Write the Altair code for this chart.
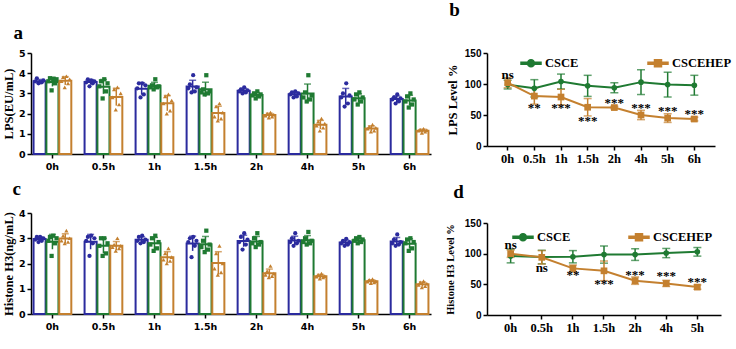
import altair as alt
import pandas as pd

TIMES = ['0h', '0.5h', '1h', '1.5h', '2h', '4h', '5h', '6h']
TIMES_D = ['0h', '0.5h', '1h', '1.5h', '2h', '4h', '5h']
GROUPS = ['LPS', 'CSCE', 'CSCEHEP']
SERIES = ['CSCE', 'CSCEHEP']
BLUE = '#2b2b9e'
GREEN = '#1f7a32'
ORANGE = '#c4802f'

# ---- panel a: LPS (EU/mL), individual replicates per time point ----
A_LPS = [[3.5, 3.55, 3.6, 3.65, 3.75, 3.55], [3.35, 3.5, 3.55, 3.6, 3.7, 3.65],
         [2.8, 2.95, 3.25, 3.4, 3.5, 3.5], [3.05, 3.1, 3.25, 3.3, 3.45, 3.9],
         [3.0, 3.05, 3.1, 3.15, 3.2, 3.3], [2.8, 2.85, 2.95, 3.0, 3.05, 3.1],
         [2.35, 2.5, 2.8, 2.9, 3.0, 3.5], [2.5, 2.6, 2.7, 2.75, 2.8, 2.95]]
A_CSCE = [[3.15, 3.5, 3.6, 3.7, 3.75, 3.72], [2.75, 3.1, 3.35, 3.5, 3.6, 3.7],
          [3.2, 3.3, 3.3, 3.35, 3.4, 3.7], [2.95, 3.0, 3.05, 3.1, 3.2, 3.9],
          [2.75, 2.85, 2.9, 2.95, 3.0, 3.1], [2.6, 2.7, 2.8, 2.9, 3.05, 3.9],
          [2.45, 2.6, 2.7, 2.8, 2.95, 3.05], [2.3, 2.45, 2.6, 2.7, 2.85, 3.0]]
A_HEP = [[3.3, 3.5, 3.6, 3.7, 3.8, 3.85], [2.2, 2.45, 2.8, 3.0, 3.2, 3.3],
         [2.0, 2.15, 2.5, 2.65, 2.85, 2.95], [1.65, 1.75, 1.85, 2.05, 2.35, 2.5],
         [1.8, 1.85, 1.9, 1.95, 2.0, 2.05], [1.15, 1.3, 1.4, 1.5, 1.6, 1.75],
         [1.1, 1.15, 1.25, 1.3, 1.35, 1.45], [1.05, 1.1, 1.15, 1.18, 1.2, 1.25]]

# ---- panel c: Histone H3 (ng/mL) ----
C_LPS = [[2.85, 2.9, 2.95, 3.0, 3.05, 3.05], [2.3, 2.8, 2.9, 3.0, 3.05, 3.1],
         [2.8, 2.85, 2.9, 2.95, 3.05, 3.1], [2.25, 2.7, 2.85, 2.9, 3.0, 3.05],
         [2.55, 2.75, 2.85, 2.95, 3.05, 3.2], [2.7, 2.8, 2.85, 2.9, 3.0, 3.2],
         [2.7, 2.75, 2.8, 2.85, 2.9, 2.98], [2.7, 2.75, 2.8, 2.85, 2.95, 3.15]]
C_CSCE = [[2.3, 2.8, 2.9, 3.0, 3.05, 3.1], [2.3, 2.4, 2.7, 2.8, 3.0, 3.0],
          [2.5, 2.6, 2.75, 2.85, 3.0, 3.1], [2.45, 2.55, 2.65, 2.75, 2.9, 3.3],
          [2.65, 2.75, 2.8, 2.85, 3.0, 3.2], [2.75, 2.8, 2.85, 2.9, 3.0, 3.25],
          [2.8, 2.85, 2.9, 2.95, 3.0, 3.05], [2.5, 2.6, 2.8, 2.85, 2.95, 3.0]]
C_HEP = [[2.8, 2.85, 2.9, 3.0, 3.1, 3.3], [2.5, 2.6, 2.65, 2.7, 2.75, 3.0],
         [2.0, 2.1, 2.15, 2.25, 2.4, 2.6], [1.55, 1.65, 1.8, 2.0, 2.4, 2.7],
         [1.45, 1.5, 1.55, 1.6, 1.7, 1.9], [1.4, 1.45, 1.48, 1.5, 1.55, 1.6],
         [1.22, 1.25, 1.28, 1.3, 1.35, 1.38], [1.05, 1.1, 1.15, 1.2, 1.25, 1.3]]

# fixed horizontal slot order for replicate dots inside each bar
PERM = [2, 4, 0, 5, 1, 3]

# ---- panel b: LPS level % ----
B_CSCE_MEAN = [99, 93, 104, 97, 94, 103, 99, 98]
B_CSCE_SD = [7, 14, 12, 17, 8, 20, 20, 16]
B_HEP_MEAN = [102, 80.5, 79, 62.5, 62, 50, 45, 43.5]
B_HEP_SD = [8, 13, 12.5, 14, 2, 7.5, 7, 3]
B_SIG = ['ns', '**', '***', '***', '***', '***', '***', '***']
B_SIG_Y = [115, 61, 61, 41, 70, 61, 56, 52]

# ---- panel d: Histone H3 level % ----
D_CSCE_MEAN = [96, 94.5, 95, 98.5, 98.5, 101, 103]
D_CSCE_SD = [11, 11, 10, 14, 9.5, 7.5, 7]
D_HEP_MEAN = [100, 94, 76, 72, 56, 51.5, 45.5]
D_HEP_SD = [6, 11, 5.5, 16, 6, 5, 3.5]
D_SIG = ['ns', 'ns', '**', '***', '***', '***', '***']
D_SIG_Y = [114, 77, 65, 51, 65, 63, 54]

SERIF = 'Liberation Serif'
SANS = 'Liberation Sans'
# legend glyphs: a short filled bar (the line) plus the marker
PATH_C = ('M-1,-0.1L1,-0.1L1,0.1L-1,0.1Z'
          'M0.35,0A0.35,0.35,0,1,1,-0.35,0A0.35,0.35,0,1,1,0.35,0Z')
PATH_S = 'M-1,-0.1L1,-0.1L1,0.1L-1,0.1ZM-0.35,-0.35L0.35,-0.35L0.35,0.35L-0.35,0.35Z'


def bar_df(lists):
    rows = []
    for gi, (g, series) in enumerate(zip(GROUPS, lists)):
        for t, vals in zip(TIMES, series):
            for i, v in enumerate(vals):
                rows.append({'time': t, 'grp': g, 'value': v, 'slot': gi * 8 + 1 + PERM[i]})
    return pd.DataFrame(rows)


def title(letter, offset, dx, alpha):
    kw = dict(baseline='alphabetic') if alpha else {}
    return alt.TitleParams(text=letter, anchor='start', font=SERIF, fontSize=19,
                           fontWeight='bold', color='black', offset=offset, dx=dx, **kw)


def bar_panel(df, ymax, ytitle, letter, toff, tdx, legend_x, legend_y, lfont, loffset, lpad, width, height):
    cscale = alt.Scale(domain=GROUPS, range=[BLUE, GREEN, ORANGE])
    xscale = alt.Scale(paddingInner=0.26, paddingOuter=0.05)
    xaxis = alt.Axis(title=None, labelAngle=0, bandPosition=0.5, labelFont='DejaVu Sans',
                     labelFontWeight='bold', labelFontSize=9.5, labelColor='black', labelPadding=3)
    yscale = alt.Scale(domain=[0, ymax], nice=False)
    yaxis = alt.Axis(values=list(range(ymax + 1)), title=ytitle, titleFont=SERIF,
                     titleFontWeight='bold', titleFontSize=12.5, titleColor='black',
                     titlePadding=3, labelFont='DejaVu Sans', labelFontWeight='bold',
                     labelFontSize=9.5, labelColor='black')

    def X():
        return alt.X('time:N', sort=TIMES, scale=xscale, axis=xaxis)

    def Y(f):
        return alt.Y(f, scale=yscale, axis=yaxis)

    goff = alt.XOffset('grp:N', sort=GROUPS, scale=alt.Scale(paddingInner=0.06))
    leg = alt.Legend(title=None, orient='none', legendX=legend_x, legendY=legend_y,
                     direction='horizontal', labelFont=SERIF, labelFontWeight='bold',
                     labelFontSize=lfont, labelColor='black', labelOffset=loffset,
                     columnPadding=lpad, gridAlign='all', symbolSize=22, padding=0)
    base = alt.Chart(df)
    bars = base.mark_bar(fill='white', strokeWidth=2).encode(
        x=X(), xOffset=goff, y=Y('mean(value):Q'),
        stroke=alt.Stroke('grp:N', scale=cscale, legend=None))
    agg = base.transform_aggregate(m='mean(value)', s='stdev(value)', groupby=['time', 'grp']) \
        .transform_calculate(lo='datum.m - datum.s', hi='datum.m + datum.s')
    rules = agg.mark_rule(strokeWidth=1.5).encode(
        x=X(), xOffset=goff, y=Y('lo:Q'), y2='hi:Q',
        color=alt.Color('grp:N', scale=cscale, legend=None))
    caps = agg.mark_tick(thickness=1.5, size=7).encode(
        x=X(), xOffset=goff, y=Y('hi:Q'),
        color=alt.Color('grp:N', scale=cscale, legend=None))
    pts = base.mark_point(filled=True, size=18, opacity=1).encode(
        x=X(),
        xOffset=alt.XOffset('slot:O', scale=alt.Scale(domain=list(range(24)), paddingInner=0, paddingOuter=0)),
        y=Y('value:Q'),
        color=alt.Color('grp:N', scale=cscale, legend=leg),
        shape=alt.Shape('grp:N', scale=alt.Scale(domain=GROUPS, range=['circle', 'square', 'triangle-up']), legend=leg))
    return alt.layer(bars, rules, caps, pts).resolve_scale(xOffset='independent').properties(
        width=width, height=height, title=title(letter, toff, tdx, False))


def line_panel(times, cm, csd, hm, hsd, sig, sigy, ytitle, tfs, tpad, letter, toff, tdx,
               legend_x, legend_y, lpad, width, height, xpad):
    rows = []
    for s, means, sds in (('CSCE', cm, csd), ('CSCEHEP', hm, hsd)):
        for t, m, sd in zip(times, means, sds):
            rows.append({'time': t, 'series': s, 'mean': m, 'sd': sd})
    df = pd.DataFrame(rows)
    sdf = pd.DataFrame({'time': times, 'sig': sig, 'y': sigy})
    cscale = alt.Scale(domain=SERIES, range=[GREEN, ORANGE])
    xscale = alt.Scale(domain=times, padding=xpad)
    xaxis = alt.Axis(title=None, labelAngle=0, labelFont=SERIF, labelFontWeight='bold',
                     labelFontSize=12.5, labelColor='black', labelPadding=2)
    yscale = alt.Scale(domain=[0, 150], nice=False)
    yaxis = alt.Axis(values=[0, 50, 100, 150], title=ytitle, titleFont=SERIF,
                     titleFontWeight='bold', titleFontSize=tfs, titleColor='black',
                     titlePadding=tpad, labelFont=SANS, labelFontWeight='bold',
                     labelFontSize=10, labelColor='black')

    def X():
        return alt.X('time:O', sort=times, scale=xscale, axis=xaxis)

    def Y(f):
        return alt.Y(f, scale=yscale, axis=yaxis)

    leg = alt.Legend(title=None, orient='none', legendX=legend_x, legendY=legend_y,
                     direction='horizontal', labelFont=SERIF, labelFontWeight='bold',
                     labelFontSize=12.5, labelColor='black', labelOffset=3,
                     columnPadding=lpad, symbolSize=400, padding=0)
    base = alt.Chart(df).transform_calculate(lo='datum.mean - datum.sd', hi='datum.mean + datum.sd')
    # legend layer drawn first with tiny marks hidden under the data markers
    legl = base.mark_point(filled=True, opacity=1, size=1).encode(
        x=X(), y=Y('mean:Q'),
        color=alt.Color('series:N', scale=cscale, legend=leg),
        shape=alt.Shape('series:N', scale=alt.Scale(domain=SERIES, range=[PATH_C, PATH_S]), legend=leg))
    err = base.mark_errorbar(ticks=True, size=8, thickness=1.5).encode(
        x=X(), y=Y('lo:Q'), y2='hi:Q', color=alt.Color('series:N', scale=cscale, legend=None))
    line = base.mark_line(strokeWidth=2).encode(
        x=X(), y=Y('mean:Q'), color=alt.Color('series:N', scale=cscale, legend=None))
    pc_ = base.transform_filter("datum.series === 'CSCE'").mark_point(
        filled=True, opacity=1, shape='circle', size=32).encode(
        x=X(), y=Y('mean:Q'), color=alt.Color('series:N', scale=cscale, legend=None))
    ps_ = base.transform_filter("datum.series === 'CSCEHEP'").mark_point(
        filled=True, opacity=1, shape='square', size=45).encode(
        x=X(), y=Y('mean:Q'), color=alt.Color('series:N', scale=cscale, legend=None))
    txt = alt.Chart(sdf).mark_text(font=SERIF, fontWeight='bold', fontSize=13, color='black',
                                   baseline='middle').encode(x=X(), y=Y('y:Q'), text='sig:N')
    return alt.layer(legl, err, line, pc_, ps_, txt).properties(
        width=width, height=height, title=title(letter, toff, tdx, True))


pa = bar_panel(bar_df([A_LPS, A_CSCE, A_HEP]), 5, 'LPS(EU/mL)', 'a', 5, 11,
               44, 4, 11.5, 9, 11, 400, 101)
pc = bar_panel(bar_df([C_LPS, C_CSCE, C_HEP]), 4, 'Histone H3(ng/mL)', 'c', 9, 10,
               47, -5, 13, 11, 16, 400, 101)
pb = line_panel(TIMES, B_CSCE_MEAN, B_CSCE_SD, B_HEP_MEAN, B_HEP_SD, B_SIG, B_SIG_Y,
                'LPS Level %', 12.5, 5, 'b', 13, 3, 33, -1, 66, 228, 93, 0.55)
pd_ = line_panel(TIMES_D, D_CSCE_MEAN, D_CSCE_SD, D_HEP_MEAN, D_HEP_SD, D_SIG, D_SIG_Y,
                 'Histone H3 Level %', 10.5, 9, 'd', 1, 8, 25, 3, 55, 234, 92, 0.52)

RES = dict(color='independent', shape='independent', size='independent',
           stroke='independent', fill='independent')
left = alt.vconcat(pa, pc, spacing=9).resolve_scale(**RES)
right = alt.vconcat(pb, pd_, spacing=18).resolve_scale(**RES)
chart = alt.hconcat(left, right, spacing=14).resolve_scale(**RES).properties(
    padding={'left': 2, 'top': 1, 'right': 2, 'bottom': 2}, background='white'
).configure_view(stroke=None).configure_axis(
    grid=False, domainColor='black', domainWidth=1.5, tickColor='black', tickWidth=1.5,
    tickSize=4, labelPadding=2
)

chart.save('out.html', embed_options={'renderer': 'svg', 'actions': False})
